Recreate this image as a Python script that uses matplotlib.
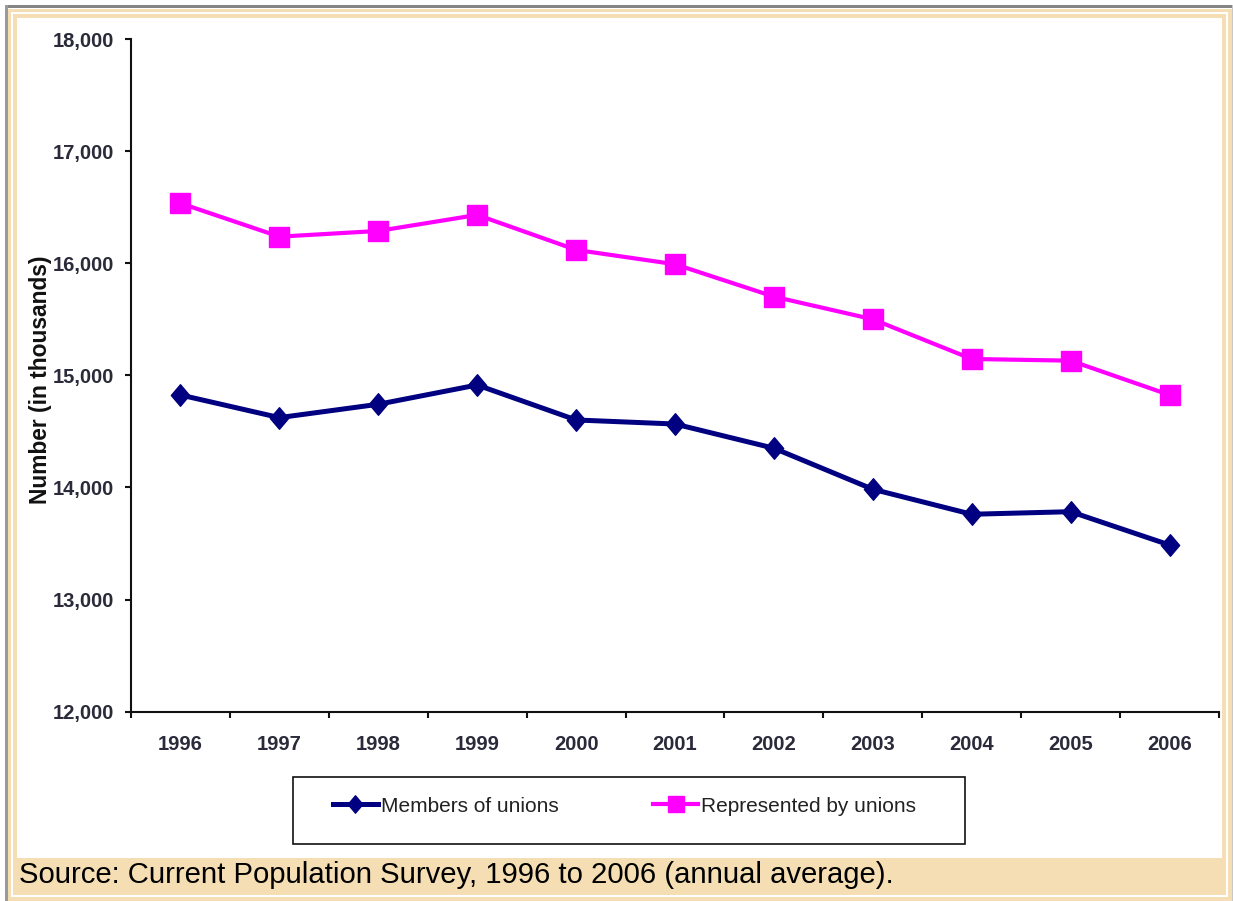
import matplotlib
matplotlib.use("Agg")
import matplotlib.pyplot as plt
from matplotlib.patches import Rectangle
from matplotlib.path import Path
from matplotlib.lines import Line2D
from matplotlib.ticker import FixedLocator, FuncFormatter

# ---- data (thousands of workers) ----
years = ["1996", "1997", "1998", "1999", "2000", "2001",
         "2002", "2003", "2004", "2005", "2006"]
members = [14825, 14623, 14742, 14914, 14602, 14566,
           14350, 13984, 13761, 13784, 13487]
represented = [16535, 16237, 16288, 16431, 16119, 15991,
               15702, 15500, 15146, 15131, 14825]
y_ticks = [12000, 13000, 14000, 15000, 16000, 17000, 18000]
series_labels = ["Members of unions", "Represented by unions"]
y_title = "Number (in thousands)"
caption = "Source: Current Population Survey, 1996 to 2006 (annual average)."

NAVY = "#000080"
MAGENTA = "#FF00FF"
TAN = "#F5DEB3"
FONT = "Liberation Sans"

W, H = 1233, 901
fig = plt.figure(figsize=(W / 100, H / 100), dpi=100, facecolor="white")


def box(x0, y0, x1, y1, color, z, edge="none", lw=0):
    """Filled rectangle given in pixel coordinates from the top-left corner."""
    r = Rectangle((x0 / W, 1 - y1 / H), (x1 - x0) / W, (y1 - y0) / H,
                  transform=fig.transFigure, facecolor=color,
                  edgecolor=edge, linewidth=lw, zorder=z)
    fig.add_artist(r)
    return r


# page frame: gray rule, double tan border, caption strip
box(5, 5, 1233, 7.5, "#858585", -20)
box(5, 5, 7.5, 901, "#9a9a9a", -20)
box(1232, 5, 1233, 901, "#c8c8c8", -20)
box(8, 8.5, 1232, 901, TAN, -19)
box(11, 12.3, 1228, 897.3, "white", -18)
box(12.7, 14, 1226, 895, TAN, -17)
box(16.7, 18.3, 1221.7, 857.7, "white", -16)

# ---- plot area ----
ax = fig.add_axes([131 / W, 1 - 711.7 / H, (1219 - 131) / W, (711.7 - 39) / H])
ax.patch.set_visible(False)

x = list(range(len(years)))
diamond = Path([(0, 1), (0.85, 0), (0, -1), (-0.85, 0), (0, 1)],
               [Path.MOVETO, Path.LINETO, Path.LINETO, Path.LINETO, Path.CLOSEPOLY])

ax.plot(x, members, color=NAVY, lw=3.6, marker=diamond, ms=15.5,
        markerfacecolor=NAVY, markeredgecolor=NAVY, solid_joinstyle="round",
        label=series_labels[0], zorder=3)
ax.plot(x, represented, color=MAGENTA, lw=3.0, marker="s", ms=15,
        markerfacecolor=MAGENTA, markeredgecolor=MAGENTA,
        label=series_labels[1], zorder=3)

ax.set_xlim(-0.5, len(years) - 0.5)
ax.set_ylim(y_ticks[0], y_ticks[-1])

for side in ("top", "right"):
    ax.spines[side].set_visible(False)
for side in ("left", "bottom"):
    ax.spines[side].set_linewidth(1.5)
    ax.spines[side].set_color("#111111")

ax.set_yticks(y_ticks)
ax.yaxis.set_major_formatter(FuncFormatter(lambda v, p: f"{int(v):,}"))
ax.tick_params(axis="y", direction="out", length=4, width=1.5, pad=8,
               colors="#111111", labelcolor="#2a2a3a", labelsize=14.5)

# category labels centred, tick marks on category boundaries
ax.set_xticks(x)
ax.set_xticklabels(years)
ax.xaxis.set_minor_locator(FixedLocator([i - 0.5 for i in range(len(years) + 1)]))
ax.tick_params(axis="x", which="major", length=0, pad=17,
               labelcolor="#2a2a3a", labelsize=14.5)
ax.tick_params(axis="x", which="minor", direction="out", length=4, width=1.5,
               colors="#111111")

for lab in ax.get_xticklabels() + ax.get_yticklabels():
    lab.set_fontfamily(FONT)
    lab.set_fontweight("bold")

ax.text(-0.0835, 0.493, y_title, transform=ax.transAxes, rotation=90,
        ha="center", va="center", fontsize=16.4, fontweight="bold",
        family=FONT, color="#111111")

# ---- legend in its own framed box ----
box(293, 777, 965, 844, "white", 5, edge="#111111", lw=1.2)
handles = [
    Line2D([], [], color=NAVY, lw=3.6, marker=diamond, ms=12.5,
           markerfacecolor=NAVY, markeredgecolor=NAVY),
    Line2D([], [], color=MAGENTA, lw=3.0, marker="s", ms=11,
           markerfacecolor=MAGENTA, markeredgecolor=MAGENTA),
]
leg = fig.legend(handles, series_labels, loc="center left",
                 bbox_to_anchor=(333 / W, 1 - 806 / H), ncol=2,
                 frameon=False, handlelength=2.15, handletextpad=0.15,
                 columnspacing=4.55, borderpad=0, borderaxespad=0,
                 prop={"family": FONT, "size": 15})
leg.set_zorder(6)
for t in leg.get_texts():
    t.set_color("#222222")

# ---- caption ----
fig.text(19 / W, 1 - 882.7 / H, caption, ha="left", va="baseline",
         fontsize=21.1, family=FONT, color="black")

fig.savefig("out.png", dpi=100, facecolor=fig.get_facecolor())
